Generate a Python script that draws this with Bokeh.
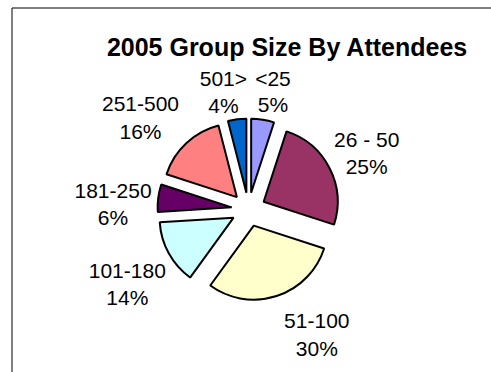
import math
from bokeh.plotting import figure
from bokeh.models import Range1d, ColumnDataSource
from bokeh.core.properties import value
from bokeh.embed import file_html
from bokeh.resources import INLINE

# ---- data ----
categories = ["<25", "26 - 50", "51-100", "101-180", "181-250", "251-500", "501>"]
percents = [5, 25, 30, 14, 6, 16, 4]
colors = ["#9999FF", "#993366", "#FFFFCC", "#CCFFFF", "#660066", "#FF8080", "#0066CC"]
title_text = "2005 Group Size By Attendees"

# ---- layout (pixels) ----
W, H = 491, 372
CX, CY = 248, H - 209          # pie centre
R = 74                         # pie radius
EXPLODE = 17                   # explosion offset
LABEL_R = [127, 134, 137, 139, 136, 146, 127]
LABEL_NUDGE = [2.1, -1.1, -11.9, -0.5, -2.1, -4.5, -4.2]   # degrees, clockwise

p = figure(width=W, height=H, output_backend="svg", toolbar_location=None,
           x_range=Range1d(0, W), y_range=Range1d(0, H),
           min_border=0, outline_line_color=None)
p.axis.visible = False
p.grid.visible = False
p.background_fill_color = "white"
p.border_fill_color = "white"

# chart area border (clipped at right and bottom)
p.quad(left=[11.5], right=[W + 20], top=[H - 7.5], bottom=[-20],
       fill_color=None, line_color="black", line_width=1)

total = sum(percents)
xs, ys, starts, ends, lx, ly1, ly2, pct = [], [], [], [], [], [], [], []
cum = 0
for i, v in enumerate(percents):
    s = cum / total
    e = (cum + v) / total
    cum += v
    m = (s + e) / 2 * 2 * math.pi
    xs.append(CX + EXPLODE * math.sin(m))
    ys.append(CY + EXPLODE * math.cos(m))
    starts.append(math.pi / 2 - 2 * math.pi * e)
    ends.append(math.pi / 2 - 2 * math.pi * s)
    a = m + math.radians(LABEL_NUDGE[i])
    bx = CX + LABEL_R[i] * math.sin(a)
    by = CY + LABEL_R[i] * math.cos(a)
    lx.append(bx)
    ly1.append(by + 6.8)
    ly2.append(by - 20)
    pct.append(f"{v}%")

src = ColumnDataSource(dict(x=xs, y=ys, start=starts, end=ends, color=colors,
                            lx=lx, ly1=ly1, ly2=ly2, cat=categories, pct=pct))

p.wedge(x="x", y="y", radius=R, start_angle="start", end_angle="end",
        direction="anticlock", fill_color="color", line_color="black",
        line_width=2, source=src)

p.text(x="lx", y="ly1", text="cat", source=src, text_align="center",
       text_baseline="alphabetic", text_font=value("Liberation Sans"),
       text_font_size="21px", text_color="black")
p.text(x="lx", y="ly2", text="pct", source=src, text_align="center",
       text_baseline="alphabetic", text_font=value("Liberation Sans"),
       text_font_size="21px", text_color="black")

p.text(x=[287], y=[H - 46.7], text=[title_text], text_align="center",
       text_baseline="alphabetic", text_font=value("Liberation Sans"),
       text_font_style="bold", text_font_size="25px", text_color="black")

open("out.html", "w").write(file_html(p, INLINE))
